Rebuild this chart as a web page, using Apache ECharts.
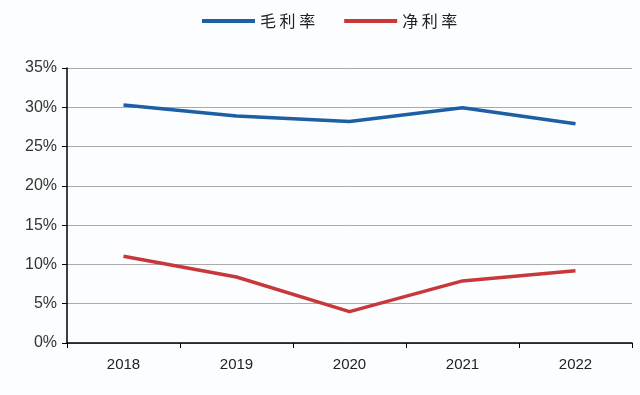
<!DOCTYPE html>
<html><head><meta charset="utf-8">
<script src="https://cdn.jsdelivr.net/npm/echarts@6/dist/echarts.min.js"></script>
<style>html,body{margin:0;padding:0;background:#fcfdfe}#c{width:640px;height:395px}</style>
</head><body><div id="c"></div>
<script>
const categories = ['2018','2019','2020','2021','2022'];
const grossMargin = [30.3, 28.9, 28.2, 29.95, 27.9];
const netMargin = [11.05, 8.4, 4.0, 7.9, 9.2];
const seriesNames = ['毛利率','净利率'];

const chart = echarts.init(document.getElementById('c'));
chart.setOption({
  backgroundColor: '#fcfdfe',
  animation: false,
  legend: {
    top: 8, left: 197, itemWidth: 53, itemHeight: 4, itemGap: 29,
    icon: 'rect',
    formatter: n => n.split('').join(' '),
    textStyle: {fontFamily: 'Noto Sans CJK SC', fontSize: 16, color: '#222'},
    data: seriesNames
  },
  grid: {left: 67, right: 8, top: 68, bottom: 52},
  xAxis: {
    type: 'category', data: categories, boundaryGap: true,
    axisLine: {lineStyle: {color: '#000', width: 1.5}},
    axisTick: {show: true, length: 5, lineStyle: {color: '#000'}},
    axisLabel: {fontFamily: 'Liberation Sans', fontSize: 15, color: '#222', margin: 14}
  },
  yAxis: {
    type: 'value', min: 0, max: 35, interval: 5,
    axisLine: {show: true, lineStyle: {color: '#000', width: 1.5}},
    axisTick: {show: true, length: 5, lineStyle: {color: '#000'}},
    splitLine: {lineStyle: {color: '#aaa', width: 1}},
    axisLabel: {formatter: '{value}%', fontFamily: 'Liberation Sans', fontSize: 16, color: '#333', margin: 10}
  },
  series: [
    {name: seriesNames[0], type: 'line', data: grossMargin, symbol: 'none',
     lineStyle: {color: '#1c5fa3', width: 3.5}, itemStyle: {color: '#1c5fa3'}},
    {name: seriesNames[1], type: 'line', data: netMargin, symbol: 'none',
     lineStyle: {color: '#c8383a', width: 3.5}, itemStyle: {color: '#c8383a'}}
  ]
});
</script></body></html>
